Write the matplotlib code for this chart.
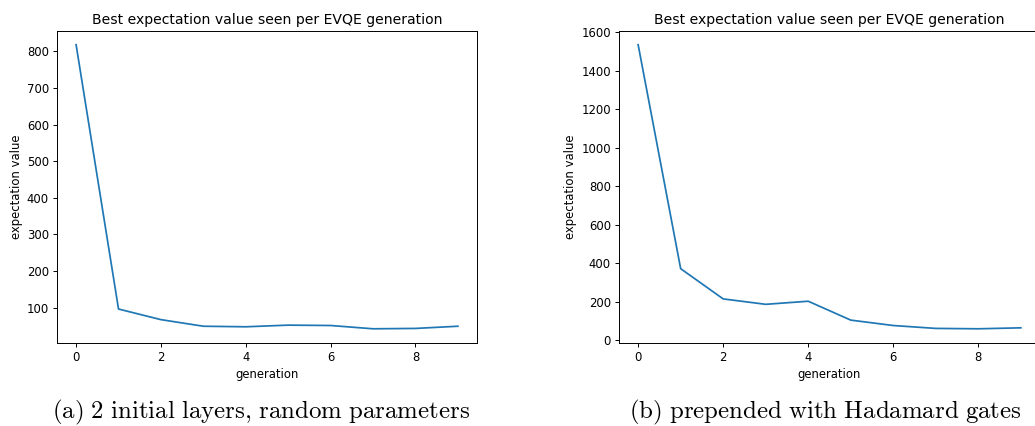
import matplotlib
matplotlib.use("Agg")
import matplotlib.pyplot as plt

generations = list(range(10))
values_a = [818, 96, 67, 49, 47.5, 52, 51, 42, 43, 49]
values_b = [1534, 372, 215, 187, 203, 105, 77, 62, 60, 65]
title = "Best expectation value seen per EVQE generation"
xlabel = "generation"
ylabel = "expectation value"
caption_a = r"$\mathrm{(a)\ 2\ initial\ layers{,}\ random\ parameters}$"
caption_b = r"$\mathrm{(b)\ prepended\ with\ Hadamard\ gates}$"

plt.rcParams["mathtext.fontset"] = "cm"
W, H = 1035, 426
fig = plt.figure(figsize=(W / 100, H / 100), dpi=100)

def px_axes(l, r, t, b):
    return fig.add_axes([l / W, 1 - b / H, (r - l) / W, (b - t) / H])

ax1 = px_axes(57, 477, 30.5, 343)
ax2 = px_axes(619, 1040, 30.5, 343)

for ax, vals in ((ax1, values_a), (ax2, values_b)):
    ax.plot(generations, vals, color="#1f77b4", linewidth=1.25)
    ax.set_title(title, fontsize=10.1, pad=5)
    ax.set_xlabel(xlabel, fontsize=8.4, labelpad=2.5)
    ax.set_ylabel(ylabel, fontsize=8.4, labelpad=3)
    ax.tick_params(labelsize=8.4, length=2.9, width=0.7, pad=2.9)
    for s in ax.spines.values():
        s.set_linewidth(0.7)

ax1.set_yticks([100, 200, 300, 400, 500, 600, 700, 800])
ax2.set_yticks([0, 200, 400, 600, 800, 1000, 1200, 1400, 1600])
for ax in (ax1, ax2):
    ax.set_xticks([0, 2, 4, 6, 8])

fig.text(261.5 / W, 1 - 412 / H, caption_a, ha="center", va="center", fontsize=17.9)
fig.text(825 / W, 1 - 412 / H, caption_b, ha="center", va="center", fontsize=17.9)

fig.savefig("out.png", dpi=100)
